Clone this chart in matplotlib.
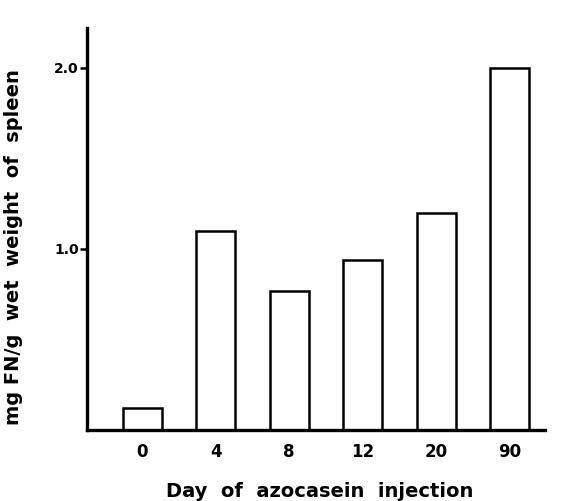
import matplotlib
matplotlib.use("Agg")
import matplotlib.pyplot as plt

categories = ["0", "4", "8", "12", "20", "90"]
values = [0.12, 1.10, 0.77, 0.94, 1.20, 2.00]
yticks = [1.0, 2.0]
ytick_labels = ["1.0", "2.0"]

fig = plt.figure(figsize=(5.62, 5.01), dpi=100)
ax = fig.add_axes([0.1548, 0.1417, 0.815, 0.8024])

x = list(range(len(categories)))
ax.bar(x, values, width=0.53, facecolor="white", edgecolor="black", linewidth=1.8)

ax.set_xlim(-0.75, 5.48)
ax.set_ylim(0, 2.22)
for s in ["top", "right"]:
    ax.spines[s].set_visible(False)
for s in ["left", "bottom"]:
    ax.spines[s].set_linewidth(2.4)

ax.set_xticks(x)
ax.set_xticklabels(categories, fontsize=12, fontweight="heavy")
ax.tick_params(axis="x", length=0, pad=9)
ax.set_yticks(yticks)
ax.set_yticklabels(ytick_labels, fontsize=10, fontweight="heavy")
ax.tick_params(axis="y", length=5, width=1.8, pad=1)

ax.set_xlabel("Day  of  azocasein  injection", fontsize=14, fontweight="heavy")
ax.xaxis.set_label_coords(0.507, -0.13)
ax.set_ylabel("mg FN/g  wet  weight  of  spleen", fontsize=14, fontweight="heavy")
ax.yaxis.set_label_coords(-0.14, 0.455)

fig.savefig("out.png", dpi=100)
